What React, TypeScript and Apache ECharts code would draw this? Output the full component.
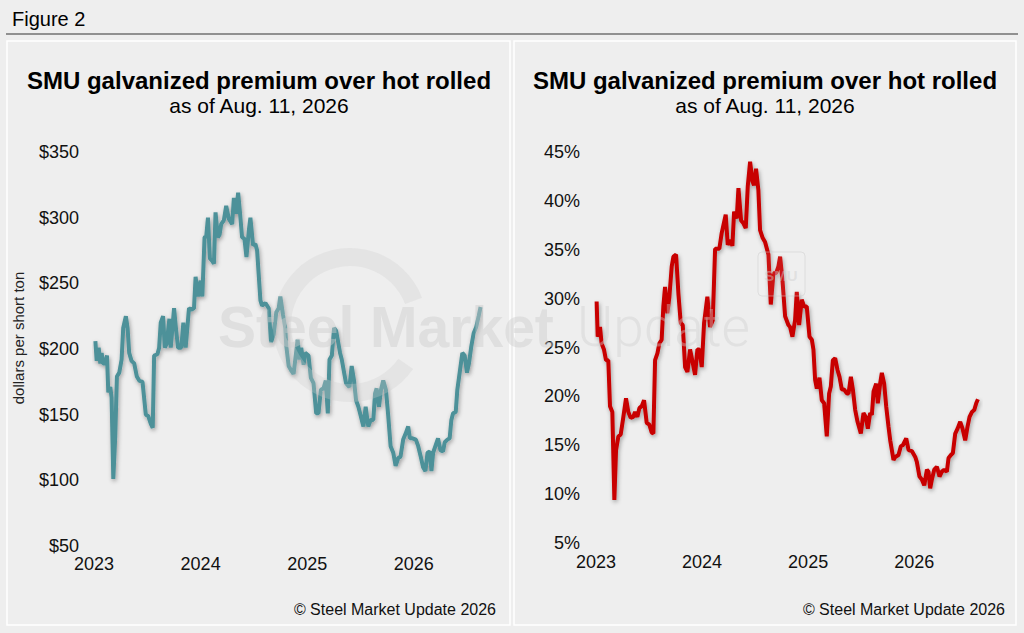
import { useEffect, useRef } from 'react';
import * as echarts from 'echarts';

// x positions are years since Jan. 1, 2023
const yearLabels = ['2023', '2024', '2025', '2026'];

const usdTimes = [
  0.013, 0.025, 0.044, 0.059, 0.072, 0.084, 0.103, 0.122, 0.134, 0.153, 0.165, 0.181, 0.199, 0.215, 0.237,
  0.259, 0.274, 0.299, 0.315, 0.330, 0.352, 0.377, 0.402, 0.424, 0.455, 0.486, 0.508, 0.533, 0.551, 0.564,
  0.595, 0.611, 0.626, 0.648, 0.664, 0.682, 0.707, 0.720, 0.751, 0.766, 0.788, 0.819, 0.838, 0.860, 0.891,
  0.913, 0.938, 0.953, 0.975, 1.000, 1.016, 1.037, 1.053, 1.069, 1.087, 1.109, 1.125, 1.140, 1.162, 1.178,
  1.193, 1.218, 1.240, 1.265, 1.296, 1.312, 1.333, 1.352, 1.368, 1.389, 1.411, 1.430, 1.452, 1.467, 1.492,
  1.514, 1.530, 1.561, 1.576, 1.608, 1.639, 1.660, 1.685, 1.710, 1.732, 1.748, 1.773, 1.794, 1.804, 1.826,
  1.847, 1.872, 1.888, 1.910, 1.928, 1.944, 1.966, 1.981, 2.012, 2.034, 2.059, 2.084, 2.106, 2.128, 2.153,
  2.174, 2.193, 2.209, 2.231, 2.252, 2.271, 2.293, 2.308, 2.324, 2.346, 2.364, 2.396, 2.417, 2.439, 2.458,
  2.480, 2.502, 2.527, 2.548, 2.573, 2.595, 2.620, 2.636, 2.651, 2.673, 2.692, 2.713, 2.738, 2.760, 2.782,
  2.807, 2.829, 2.854, 2.875, 2.900, 2.925, 2.947, 2.963, 2.988, 3.019, 3.041, 3.065, 3.087, 3.109, 3.128,
  3.150, 3.165, 3.181, 3.206, 3.227, 3.249, 3.274, 3.290, 3.315, 3.336, 3.352, 3.368, 3.393, 3.408, 3.430,
  3.455, 3.477, 3.498, 3.517, 3.539, 3.561, 3.586, 3.608, 3.626,
];

const usdPremium = [
  206, 191, 201, 189, 197, 189, 189, 195, 167, 171, 163, 101, 133, 179, 182,
  192, 216, 225, 216, 197, 191, 189, 179, 176, 175, 150, 149, 143, 140, 195,
  196, 201, 220, 225, 201, 204, 223, 201, 231, 218, 201, 201, 220, 201, 231,
  230, 231, 255, 240, 252, 240, 285, 286, 300, 269, 267, 265, 304, 285, 287,
  295, 298, 309, 299, 295, 315, 303, 319, 305, 285, 284, 270, 290, 300, 279,
  280, 275, 237, 233, 235, 231, 205, 211, 228, 231, 240, 226, 216, 202, 187,
  184, 181, 192, 207, 192, 201, 188, 197, 195, 178, 174, 151, 151, 169, 170,
  176, 151, 192, 195, 216, 214, 204, 197, 192, 182, 174, 171, 187, 176, 161,
  156, 149, 141, 156, 141, 146, 146, 166, 170, 156, 169, 176, 169, 149, 126,
  121, 111, 117, 118, 131, 136, 141, 132, 132, 131, 126, 118, 110, 107, 121,
  122, 107, 121, 127, 132, 123, 122, 129, 131, 132, 146, 151, 152, 169, 182,
  197, 195, 182, 189, 202, 212, 217, 225, 232,
];

const pctTimes = [
  0.006, 0.016, 0.038, 0.053, 0.075, 0.094, 0.116, 0.132, 0.154, 0.173, 0.189, 0.211, 0.233, 0.258, 0.283,
  0.305, 0.327, 0.352, 0.368, 0.390, 0.409, 0.431, 0.453, 0.478, 0.503, 0.525, 0.541, 0.557, 0.579, 0.597,
  0.619, 0.635, 0.651, 0.673, 0.692, 0.714, 0.730, 0.755, 0.777, 0.799, 0.818, 0.840, 0.862, 0.887, 0.909,
  0.934, 0.956, 0.975, 0.997, 1.019, 1.050, 1.075, 1.101, 1.123, 1.163, 1.185, 1.223, 1.242, 1.264, 1.286,
  1.302, 1.327, 1.343, 1.368, 1.390, 1.412, 1.431, 1.453, 1.475, 1.490, 1.509, 1.531, 1.547, 1.572, 1.594,
  1.626, 1.648, 1.673, 1.698, 1.720, 1.736, 1.758, 1.783, 1.814, 1.830, 1.852, 1.877, 1.893, 1.915, 1.940,
  1.962, 1.987, 2.013, 2.035, 2.050, 2.066, 2.082, 2.107, 2.129, 2.151, 2.176, 2.198, 2.214, 2.233, 2.255,
  2.277, 2.296, 2.318, 2.340, 2.365, 2.381, 2.403, 2.422, 2.444, 2.466, 2.497, 2.522, 2.544, 2.563, 2.585,
  2.601, 2.617, 2.642, 2.657, 2.679, 2.695, 2.717, 2.736, 2.758, 2.774, 2.805, 2.821, 2.852, 2.874, 2.893,
  2.925, 2.947, 2.978, 3.010, 3.025, 3.050, 3.072, 3.095, 3.120, 3.135, 3.151, 3.167, 3.189, 3.214, 3.239,
  3.261, 3.283, 3.308, 3.324, 3.346, 3.365, 3.387, 3.409, 3.434, 3.456, 3.481, 3.503, 3.522, 3.544, 3.566,
  3.585, 3.601,
];

const pctPremium = [
  29.7, 26.1, 27.1, 25.4, 24.8, 23.7, 23.7, 19.0, 18.4, 9.4, 14.5, 15.9, 16.1, 17.9, 19.8,
  18.4, 17.8, 17.9, 18.4, 17.9, 18.8, 19.0, 19.6, 17.3, 17.1, 16.3, 16.2, 23.7, 24.4, 25.4,
  25.8, 29.2, 31.2, 28.5, 30.2, 33.3, 34.3, 34.5, 30.5, 27.5, 27.3, 23.0, 22.5, 24.8, 23.6,
  22.2, 24.8, 24.8, 23.0, 27.5, 30.2, 27.1, 27.8, 35.1, 35.1, 36.7, 38.6, 35.5, 36.0, 35.4,
  38.9, 38.2, 41.3, 38.0, 37.7, 37.2, 41.5, 44.0, 42.0, 41.6, 43.3, 41.1, 37.0, 36.2, 35.8,
  34.5, 29.4, 32.6, 32.6, 33.3, 34.3, 31.9, 28.2, 27.3, 27.1, 26.1, 27.8, 30.7, 27.3, 29.9,
  29.2, 29.2, 26.1, 25.8, 24.8, 21.7, 20.8, 21.9, 19.6, 19.3, 15.9, 20.3, 21.0, 23.7, 23.9,
  22.7, 22.0, 20.7, 20.7, 20.3, 20.3, 22.0, 20.7, 18.6, 17.4, 16.2, 18.3, 17.9, 16.7, 18.3,
  18.1, 20.5, 21.3, 19.3, 21.3, 22.4, 21.3, 19.0, 16.9, 15.5, 13.5, 13.8, 14.0, 14.9, 15.0,
  15.7, 14.5, 14.4, 13.8, 13.3, 11.8, 11.5, 10.9, 12.5, 12.3, 10.6, 11.5, 12.5, 12.8, 11.8,
  12.3, 12.5, 12.3, 13.7, 14.0, 14.2, 16.2, 16.7, 17.4, 16.7, 15.5, 16.9, 17.9, 18.4, 18.6,
  19.3, 19.7,
];

const usdTicks = [50, 100, 150, 200, 250, 300, 350];
const pctTicks = [5, 10, 15, 20, 25, 30, 35, 40, 45];

const FONT = '"Liberation Sans", Arial, Helvetica, sans-serif';
const TITLE = 'SMU galvanized premium over hot rolled';
const SUBTITLE = 'as of Aug. 11, 2026';
const CREDIT = '\u00a9 Steel Market Update 2026';

const yearLabel = (v: number) => {
  const i = Math.round(v);
  return Math.abs(v - i) < 1e-6 && yearLabels[i] ? yearLabels[i] : '';
};

const lineShadow = {
  shadowColor: 'rgba(0,0,0,0.35)',
  shadowBlur: 4,
  shadowOffsetX: 1,
  shadowOffsetY: 2,
};

export default function App() {
  const chartRef = useRef<HTMLDivElement>(null);

  useEffect(() => {
    if (!chartRef.current) return;
    const chart = echarts.init(chartRef.current, undefined, { renderer: 'svg' });

    const xAxisBase = {
      type: 'value' as const,
      min: 0,
      max: 3.63,
      interval: 1,
      axisLine: { show: false },
      axisTick: { show: false },
      splitLine: { show: false },
      axisLabel: {
        formatter: yearLabel,
        fontFamily: FONT,
        fontSize: 18,
        color: '#111',
        margin: 9,
        showMaxLabel: false,
      },
    };

    const yAxisBase = {
      type: 'value' as const,
      axisLine: { show: false },
      axisTick: { show: false },
      splitLine: { show: false },
    };

    const text = (x: number, y: number, str: string, extra: any = {}) => ({
      type: 'text',
      x,
      y,
      style: {
        text: str,
        fontFamily: FONT,
        fontSize: 18,
        fill: '#000',
        align: 'center',
        verticalAlign: 'middle',
        ...extra,
      },
    });

    const option: any = {
      animation: false,
      backgroundColor: '#eeeeee',
      grid: [
        { left: 94, right: 543, top: 152, bottom: 87 },
        { left: 596, right: 43, top: 152, bottom: 90 },
      ],
      xAxis: [
        { ...xAxisBase, gridIndex: 0 },
        { ...xAxisBase, gridIndex: 1, axisLabel: { ...xAxisBase.axisLabel, margin: 10 } },
      ],
      yAxis: [
        {
          ...yAxisBase,
          gridIndex: 0,
          min: usdTicks[0],
          max: usdTicks[usdTicks.length - 1],
          interval: usdTicks[1] - usdTicks[0],
          axisLabel: {
            formatter: (v: number) => '$' + v,
            fontFamily: FONT,
            fontSize: 18,
            color: '#111',
            margin: 15,
          },
        },
        {
          ...yAxisBase,
          gridIndex: 1,
          min: pctTicks[0],
          max: pctTicks[pctTicks.length - 1],
          interval: pctTicks[1] - pctTicks[0],
          axisLabel: {
            formatter: (v: number) => v + '%',
            fontFamily: FONT,
            fontSize: 18,
            color: '#111',
            margin: 16,
          },
        },
      ],
      graphic: [
        // panels
        {
          type: 'rect',
          z: -1,
          shape: { x: 7, y: 41, width: 503, height: 584 },
          style: { fill: '#eeeeee', stroke: '#ffffff', lineWidth: 1.5 },
        },
        {
          type: 'rect',
          z: -1,
          shape: { x: 514, y: 41, width: 502, height: 584 },
          style: { fill: '#eeeeee', stroke: '#ffffff', lineWidth: 1.5 },
        },
        text(12, 19, 'Figure 2', { align: 'left', fontSize: 20 }),
        {
          type: 'line',
          shape: { x1: 6, y1: 34, x2: 1018, y2: 34 },
          style: { stroke: '#333', lineWidth: 1 },
        },
        text(259, 80, TITLE, { fontSize: 24, fontWeight: 'bold' }),
        text(259, 105, SUBTITLE, { fontSize: 21 }),
        text(765, 80, TITLE, { fontSize: 24, fontWeight: 'bold' }),
        text(765, 105, SUBTITLE, { fontSize: 21 }),
        {
          ...text(18, 338, 'dollars per short ton', { fontSize: 15, fill: '#222' }),
          rotation: Math.PI / 2,
        },
        text(496, 609, CREDIT, { align: 'right', fontSize: 16, fill: '#111' }),
        text(1005, 609, CREDIT, { align: 'right', fontSize: 16, fill: '#111' }),
        // watermark
        {
          type: 'sector',
          z: 50,
          shape: { cx: 350, cy: 325, r: 77, r0: 59, startAngle: 0.61, endAngle: 5.92, clockwise: true },
          style: { fill: 'rgba(205,205,205,0.3)' },
        },
        {
          type: 'text',
          z: 50,
          x: 218,
          y: 327,
          style: {
            text: 'Steel Market',
            fontFamily: FONT,
            fontSize: 57,
            fontWeight: 'bold',
            fill: 'rgba(205,205,205,0.45)',
            align: 'left',
            verticalAlign: 'middle',
          },
        },
        {
          type: 'text',
          z: 50,
          x: 577,
          y: 327,
          style: {
            text: 'Update',
            fontFamily: 'Roboto, ' + FONT,
            fontSize: 55,
            fontWeight: 300,
            fill: 'rgba(205,205,205,0.4)',
            align: 'left',
            verticalAlign: 'middle',
          },
        },
        {
          type: 'rect',
          z: 50,
          shape: { x: 758, y: 252, width: 47, height: 44, r: 4 },
          style: { fill: 'rgba(255,255,255,0.08)', stroke: 'rgba(205,205,205,0.5)', lineWidth: 1 },
        },
        {
          type: 'text',
          z: 50,
          x: 781,
          y: 275,
          style: {
            text: 'SMU',
            fontFamily: FONT,
            fontSize: 15,
            fontWeight: 'bold',
            fill: 'rgba(205,205,205,0.45)',
            align: 'center',
            verticalAlign: 'middle',
          },
        },
      ],
      series: [
        {
          name: 'Galvanized premium ($/ton)',
          type: 'line',
          xAxisIndex: 0,
          yAxisIndex: 0,
          showSymbol: false,
          data: usdTimes.map((t, i) => [t, usdPremium[i]]),
          lineStyle: { color: '#4d9199', width: 4, ...lineShadow },
        },
        {
          name: 'Galvanized premium (%)',
          type: 'line',
          xAxisIndex: 1,
          yAxisIndex: 1,
          showSymbol: false,
          data: pctTimes.map((t, i) => [t, pctPremium[i]]),
          lineStyle: { color: '#c80000', width: 4, ...lineShadow },
        },
      ],
    };

    chart.setOption(option);

    return () => {
      chart.dispose();
    };
  }, []);

  return (
    <div
      ref={chartRef}
      style={{ position: 'fixed', left: 0, top: 0, width: 1024, height: 633 }}
    />
  );
}
